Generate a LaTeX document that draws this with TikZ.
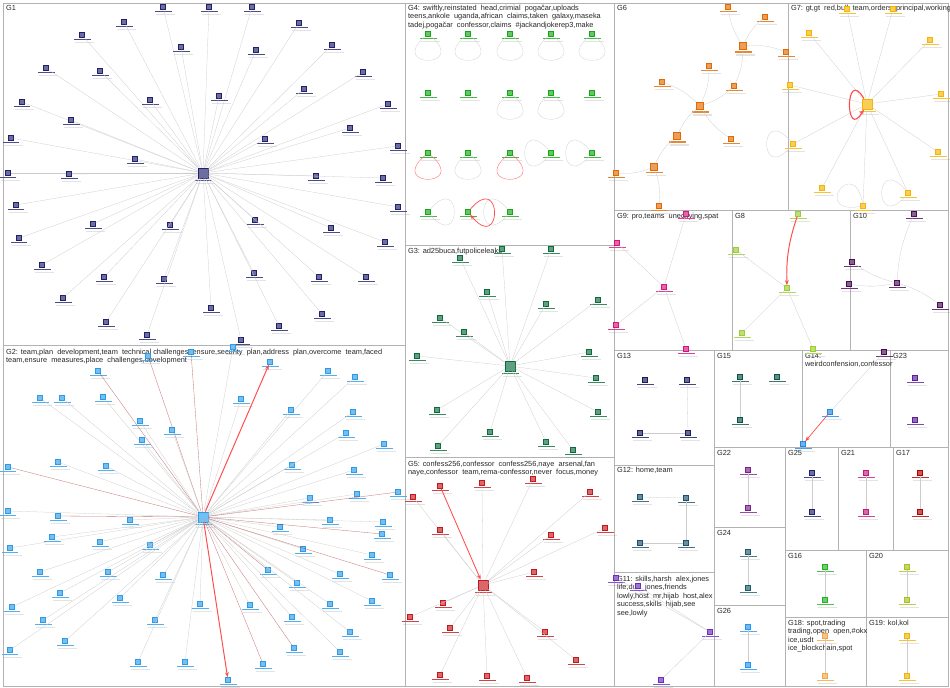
\documentclass[tikz,border=0pt]{standalone}
\usepackage{fontspec}
\setmainfont{Liberation Sans}
\usetikzlibrary{arrows.meta,shadows}

\definecolor{gone}{HTML}{1F1F6B}
\definecolor{gtwo}{HTML}{2B9BE8}
\definecolor{gthree}{HTML}{0B6B3A}
\definecolor{gfour}{HTML}{14A614}
\definecolor{gfive}{HTML}{C4161C}
\definecolor{gsix}{HTML}{E06A00}
\definecolor{gseven}{HTML}{F5B400}
\definecolor{geight}{HTML}{9ACD32}
\definecolor{gnine}{HTML}{D4147A}
\definecolor{gten}{HTML}{4B0A55}
\definecolor{geleven}{HTML}{6A2BC2}
\definecolor{gtwelve}{HTML}{1B4F6B}
\definecolor{gthirteen}{HTML}{1A1A5E}
\definecolor{gfourteen}{HTML}{1E88E5}
\definecolor{gfifteen}{HTML}{0B5345}
\definecolor{gsixteen}{HTML}{22B022}
\definecolor{gseventeen}{HTML}{B00000}
\definecolor{geighteen}{HTML}{F4A640}
\definecolor{gnineteen}{HTML}{F2B400}
\definecolor{gtwenty}{HTML}{A8C020}
\definecolor{gtwentyone}{HTML}{C2187A}
\definecolor{gtwentytwo}{HTML}{7B1F8A}
\definecolor{gtwentythree}{HTML}{5B1F9A}
\definecolor{gtwentyfour}{HTML}{1E5A6B}
\definecolor{gtwentysix}{HTML}{2196F3}

\tikzset{
  panel/.style={draw=black!30,line width=0.7pt},
  ghead/.style={anchor=north west,inner sep=0pt,align=left,text=black!85,
    font=\fontsize{10.5}{12}\selectfont},
  lbar/.style={fill=#1!80,minimum width=0.85cm,minimum height=0.06cm,inner sep=0pt,
    drop shadow={shadow xshift=0.1cm,shadow yshift=-0.14cm,opacity=0.22,
      shadow scale=1.15}},
  vx/.style={rectangle,draw=#1,fill=#1!65,line width=0.8pt,minimum size=0.24cm,
    inner sep=0pt,label={[lbar=#1,label distance=0.05cm]below:{}}},
  hub/.style={vx=#1,minimum size=0.5cm,line width=1.2pt},
  edge/.style={draw=black!20,line width=0.4pt},
  redge/.style={draw=red!60!black,line width=0.45pt,opacity=0.55},
  hot/.style={draw=red!70,line width=1.4pt,-{Stealth[length=2.6mm]}},
  hotin/.style={draw=red!70,line width=1.2pt,{Stealth[length=2.6mm]}-},
  sloop/.style={edge,min distance=2.5cm},
  rloop/.style={draw=red!55,line width=0.6pt,min distance=2.5cm}
}

\begin{document}
\begin{tikzpicture}[x=0.05cm,y=-0.05cm]
\useasboundingbox (0,0) rectangle (950,688);

% group boxes
\foreach \xa/\ya/\xb/\yb in {3/3/405/345,3/345/405/686,405/3/614/245,405/245/614/457,
  405/457/614/686,614/3/788/210,788/3/948/210,614/210/732/350,732/210/850/350,
  850/210/948/350,614/350/714/465,714/350/802/447,802/350/890/447,890/350/948/447,
  614/465/714/572,714/447/785/527,785/447/838/550,838/447/893/550,893/447/948/550,
  714/527/785/605,785/550/866/617,866/550/948/617,614/572/714/686,714/605/785/686,
  785/617/866/686,866/617/948/686}
  \draw[panel] (\xa,\ya) rectangle (\xb,\yb);

% group titles
\node[ghead] (h1) at (6,5) {G1};
\node[ghead] (h2) at (6,349) {G2: team,plan~ development,team~ technical challenges~ ensure,security~ plan,address~ plan,overcome~ team,faced\\team,ensure~ measures,place~ challenges,development};
\node[ghead] (h4) at (408,5) {G4: swiftly,reinstated~ head,crimial~ pogačar,uploads\\teens,ankole~ uganda,african~ claims,taken~ galaxy,maseka\\tadej,pogačar~ confessor,claims~ \#jackandjokerep3,make};
\node[ghead] (h3) at (408,248) {G3: ad25buca,futpoliceleaks};
\node[ghead] (h5) at (408,461) {G5: confess256,confessor~ confess256,naye~ arsenal,fan\\naye,confessor~ team,rema-confessor,never~ focus,money};
\node[ghead] (h6) at (617,5) {G6};
\node[ghead] (h7) at (791,5) {G7: gt,gt~ red,bull~ team,orders~ principal,working};
\node[ghead] (h9) at (617,213) {G9: pro,teams~ unedifying,spat};
\node[ghead] (h8) at (735,213) {G8};
\node[ghead] (h10) at (853,213) {G10};
\node[ghead] (h13) at (617,353) {G13};
\node[ghead] (h15) at (717,353) {G15};
\node[ghead] (h14) at (805,353) {G14:\\weirdconfension,confessor};
\node[ghead] (h23) at (893,353) {G23};
\node[ghead] (h12) at (617,467) {G12: home,team};
\node[ghead] (h22) at (717,450) {G22};
\node[ghead] (h25) at (788,450) {G25};
\node[ghead] (h21) at (841,450) {G21};
\node[ghead] (h17) at (896,450) {G17};
\node[ghead] (h24) at (717,530) {G24};
\node[ghead] (h16) at (788,553) {G16};
\node[ghead] (h20) at (869,553) {G20};
\node[ghead] (h11) at (617,576) {G11: skills,harsh~ alex,jones\\life,due~ jones,friends\\lowly,host~ mr,hijab~ host,alex\\success,skills~ hijab,see\\see,lowly};
\node[ghead] (h26) at (717,608) {G26};
\node[ghead] (h18) at (788,620) {G18: spot,trading\\trading,open~ open,\#okx\\ice,usdt\\ice\_blockchain,spot};
\node[ghead] (h19) at (869,620) {G19: kol,kol};

% G1
\node[hub=gone] (g1h) at (203,173) {};
\foreach \x/\y [count=\i] in {163/7,209/7,252/7,124/22,82/35,299/23,181/47,256/50,332/45,
  46/68,100/71,363/72,304/89,22/102,150/100,219/96,388/104,71/120,350/128,11/138,
  265/139,398/146,135/159,8/173,69/174,316/176,383/178,16/205,398/207,93/224,170/225,
  255/220,331/228,19/238,385/242,42/265,104/277,164/279,254/273,319/277,366/277,
  63/298,211/308,322/314,279/326,106/322,147/335,241/340} {
  \node[vx=gone] (g1n\i) at (\x,\y) {};
  \draw[edge] (g1h) -- (g1n\i);
}

% G2
\node[hub=gtwo] (g2h) at (203,517) {};
\foreach \x/\y/\s [count=\i] in {98/371/redge,148/356/redge,191/352/redge,233/347/edge,
  270/362/hot,328/371/edge,355/377/edge,40/398/edge,62/398/edge,103/397/edge,140/421/edge,
  241/399/edge,291/410/edge,353/412/edge,8/467/redge,58/462/edge,106/466/edge,142/440/edge,
  172/430/edge,292/465/edge,346/433/edge,384/444/edge,354/470/edge,8/511/edge,58/516/redge,
  130/520/edge,280/527/edge,310/498/edge,357/494/edge,398/492/redge,383/522/edge,
  330/520/edge,10/548/edge,52/537/edge,100/542/edge,150/545/edge,303/549/edge,
  382/534/redge,372/555/edge,40/572/edge,108/572/edge,163/575/edge,268/570/redge,
  297/583/edge,340/574/edge,390/575/redge,12/607/edge,60/593/edge,120/598/edge,
  330/604/edge,372/601/edge,43/620/edge,155/620/edge,200/604/edge,250/605/edge,
  292/617/edge,350/632/edge,10/650/edge,65/641/edge,138/662/edge,185/662/edge,
  228/680/hot,263/664/redge,294/648/redge,340/652/edge} {
  \node[vx=gtwo] (g2n\i) at (\x,\y) {};
  \draw[\s] (g2h) -- (g2n\i);
}

% G4 (self loops)
\foreach \x/\y [count=\i] in {428/34,468/34,510/34,551/34,592/34,428/93,468/93,510/93,
  551/93,592/93,428/153,468/153,510/153,551/153,592/153,428/212,468/212,510/212}
  \node[vx=gfour] (g4n\i) at (\x,\y) {};
\foreach \i/\o/\n/\s in {1/-140/-40/sloop,2/-140/-40/sloop,3/-140/-40/sloop,4/-140/-40/sloop,
  5/-140/-40/sloop,8/-140/-40/sloop,9/-140/-40/sloop,11/-140/-40/rloop,12/-140/-40/sloop,
  13/-140/-40/rloop,14/130/230/sloop,15/130/230/sloop,16/50/-50/sloop,18/130/230/sloop}
  \draw[\s] (g4n\i) to[out=\o,in=\n] (g4n\i);
\draw[hot,line width=1pt,min distance=2.5cm] (g4n17) to[out=50,in=-50] (g4n17);

% G3
\node[hub=gthree] (g3h) at (510,366) {};
\foreach \x/\y [count=\i] in {502/249,551/249,460/258,487/292,546/304,598/300,440/318,
  464/332,417/356,589/352,596/378,437/410,490/432,546/442,598/412,573/450,438/446} {
  \node[vx=gthree] (g3n\i) at (\x,\y) {};
  \draw[edge] (g3h) -- (g3n\i);
}

% G5
\node[hub=gfive] (g5h) at (483,585) {};
\foreach \x/\y/\s [count=\i] in {440/486/hotin,482/483/edge,533/479/edge,413/497/edge,
  590/492/edge,440/530/edge,551/535/edge,605/528/edge,443/603/edge,534/572/edge,
  410/617/edge,450/628/edge,545/632/edge,576/660/edge,440/675/edge,487/676/edge,
  527/678/edge} {
  \node[vx=gfive] (g5n\i) at (\x,\y) {};
  \draw[\s] (g5h) -- (g5n\i);
}

% G6
\node[vx=gsix] (g6a) at (728,7) {};
\node[vx=gsix] (g6b) at (765,17) {};
\node[hub=gsix,minimum size=0.38cm] (g6c) at (743,46) {};
\node[vx=gsix] (g6d) at (786,52) {};
\node[vx=gsix] (g6e) at (709,66) {};
\node[vx=gsix] (g6f) at (662,82) {};
\node[vx=gsix] (g6g) at (734,86) {};
\node[hub=gsix,minimum size=0.38cm] (g6h) at (700,106) {};
\node[vx=gsix] (g6i) at (731,139) {};
\node[hub=gsix,minimum size=0.38cm] (g6j) at (677,136) {};
\node[hub=gsix,minimum size=0.34cm] (g6k) at (654,167) {};
\node[vx=gsix] (g6l) at (616,173) {};
\node[vx=gsix] (g6m) at (659,206) {};
\foreach \a/\b in {c/a,c/b,c/d,c/g,e/h,g/h,f/h,i/h,j/h,k/j,k/l,k/m}
  \draw[edge] (g6\a) to[bend left=12] (g6\b);

% G7
\node[hub=gseven] (g7h) at (867,104) {};
\foreach \x/\y [count=\i] in {847/9,893/9,809/33,930/40,790/85,941/94,793/144,938/152,
  822/188,908/193,863/206} {
  \node[vx=gseven] (g7n\i) at (\x,\y) {};
  \draw[edge] (g7h) -- (g7n\i);
}
\draw[sloop] (g7n7) to[out=130,in=230] (g7n7);
\draw[sloop] (g7n10) to[out=130,in=230] (g7n10);
\draw[sloop] (g7n11) to[out=100,in=190] (g7n11);
\draw[hot,line width=1.6pt,min distance=1.9cm] (g7h) to[out=120,in=240] (g7h);

% G9
\node[vx=gnine] (g9h) at (664,287) {};
\foreach \x/\y [count=\i] in {686/214,617/243,616/325,686/349} {
  \node[vx=gnine] (g9n\i) at (\x,\y) {};
  \draw[edge] (g9h) -- (g9n\i);
}

% G8
\node[vx=geight] (g8h) at (787,288) {};
\node[vx=geight] (g8a) at (798,214) {};
\node[vx=geight] (g8b) at (736,250) {};
\node[vx=geight] (g8c) at (742,333) {};
\node[vx=geight] (g8d) at (813,349) {};
\draw[hot] (g8a) to[bend right=10] (g8h);
\foreach \n in {b,c,d} \draw[edge] (g8h) -- (g8\n);

% G10
\node[vx=gten] (g10h) at (897,283) {};
\foreach \x/\y [count=\i] in {914/214,852/262,940/305,849/284} {
  \node[vx=gten] (g10n\i) at (\x,\y) {};
  \draw[edge] (g10h) to[bend left=10] (g10n\i);
}

% G13
\node[vx=gthirteen] (g13a) at (645,380) {};
\node[vx=gthirteen] (g13b) at (687,380) {};
\node[vx=gthirteen] (g13c) at (640,433) {};
\node[vx=gthirteen] (g13d) at (688,433) {};
\draw[edge] (g13c) -- (g13d);
\draw[edge] (g13b) -- (g13d);

% G15
\node[vx=gfifteen] (g15a) at (740,377) {};
\node[vx=gfifteen] (g15b) at (777,377) {};
\node[vx=gfifteen] (g15c) at (740,420) {};
\draw[edge] (g15a) -- (g15c);

% G14
\node[vx=gten] (g14a) at (884,352) {};
\node[vx=gfourteen] (g14b) at (830,412) {};
\node[vx=gfourteen] (g14c) at (803,444) {};
\draw[edge] (g14a) -- (g14b);
\draw[hot,line width=1pt] (g14b) -- (g14c);

% G23
\node[vx=gtwentythree] (g23a) at (915,378) {};
\node[vx=gtwentythree] (g23b) at (915,420) {};

% G12
\node[vx=gtwelve] (g12a) at (640,497) {};
\node[vx=gtwelve] (g12b) at (686,498) {};
\node[vx=gtwelve] (g12c) at (640,543) {};
\node[vx=gtwelve] (g12d) at (686,543) {};
\draw[edge] (g12a) -- (g12b);
\draw[edge] (g12b) -- (g12d);
\draw[edge] (g12c) -- (g12d);

% two-node groups
\foreach \g/\c/\x/\ya/\yb in {22/gtwentytwo/748/470/508,25/gone/812/473/512,
  21/gtwentyone/866/473/512,17/gseventeen/920/473/512,24/gtwentyfour/748/552/588,
  16/gsixteen/825/567/600,20/gtwenty/907/567/600,26/gtwentysix/748/627/665,
  18/geighteen/825/636/676,19/gnineteen/907/636/676} {
  \node[vx=\c] (g\g a) at (\x,\ya) {};
  \node[vx=\c] (g\g b) at (\x,\yb) {};
  \draw[edge] (g\g a) -- (g\g b);
}

% G11
\node[vx=geleven] (g11h) at (710,632) {};
\foreach \x/\y [count=\i] in {616/578,638/586,661/680} {
  \node[vx=geleven] (g11n\i) at (\x,\y) {};
  \draw[edge] (g11h) -- (g11n\i);
}
\end{tikzpicture}
\end{document}
